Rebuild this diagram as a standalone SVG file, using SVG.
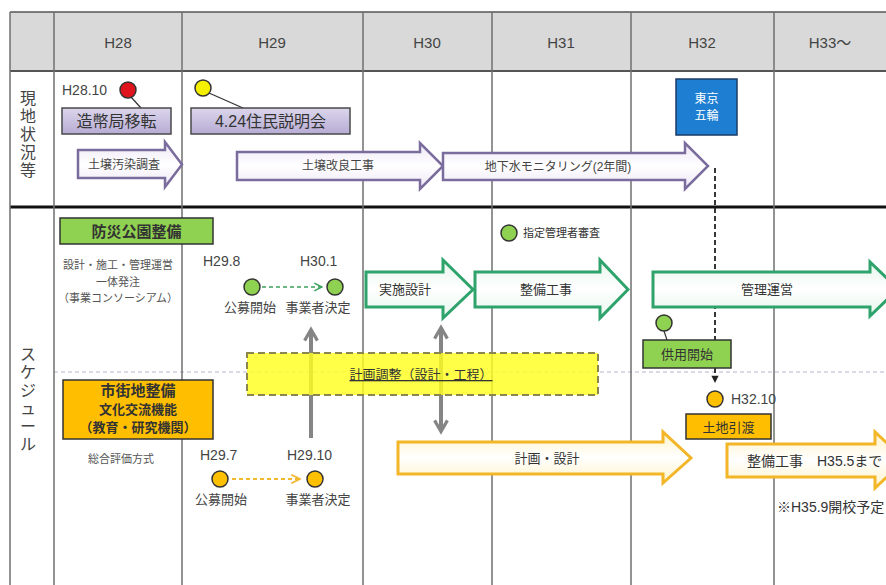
<svg xmlns="http://www.w3.org/2000/svg" width="886" height="585" viewBox="0 0 886 585">
<defs>
  <linearGradient id="gPurple" x1="0" y1="0" x2="0" y2="1">
    <stop offset="0" stop-color="#ece6f6"/><stop offset="0.5" stop-color="#ffffff"/><stop offset="1" stop-color="#ece6f6"/>
  </linearGradient>
  <linearGradient id="gLav" x1="0" y1="0" x2="0" y2="1">
    <stop offset="0" stop-color="#dcd6ec"/><stop offset="0.5" stop-color="#c9c1e0"/><stop offset="1" stop-color="#b7acd4"/>
  </linearGradient>
  <linearGradient id="gGreenArr" x1="0" y1="0" x2="0" y2="1">
    <stop offset="0" stop-color="#e6f6ec"/><stop offset="0.5" stop-color="#ffffff"/><stop offset="1" stop-color="#e6f6ec"/>
  </linearGradient>
  <linearGradient id="gOrgArr" x1="0" y1="0" x2="0" y2="1">
    <stop offset="0" stop-color="#fff3c8"/><stop offset="0.5" stop-color="#ffffff"/><stop offset="1" stop-color="#fff3c8"/>
  </linearGradient>
  <marker id="mGreen" viewBox="0 0 10 10" refX="9" refY="5" markerWidth="6" markerHeight="6" orient="auto">
    <path d="M1,1 L9,5 L1,9" fill="none" stroke="#3aa05a" stroke-width="1.6"/>
  </marker>
  <marker id="mOrange" viewBox="0 0 10 10" refX="9" refY="5" markerWidth="6" markerHeight="6" orient="auto">
    <path d="M1,1 L9,5 L1,9" fill="none" stroke="#f2b830" stroke-width="1.6"/>
  </marker>
  <marker id="mGray" viewBox="0 0 10 10" refX="7" refY="5" markerWidth="4" markerHeight="4" orient="auto-start-reverse">
    <path d="M1,1 L8,5 L1,9" fill="none" stroke="#858585" stroke-width="2"/>
  </marker>
  <marker id="mBlack" viewBox="0 0 10 10" refX="9" refY="5" markerWidth="5" markerHeight="5" orient="auto">
    <path d="M1,1 L9,5 L1,9 Z" fill="#222"/>
  </marker>
</defs>
<style>
  text { font-family: "Liberation Sans", "Noto Sans CJK JP", sans-serif; fill: #333; }
  .hdr { font-size: 15px; text-anchor: middle; fill: #444; }
  .side { font-size: 16px; text-anchor: middle; fill: #444; }
  .grid { stroke: #6f6f6f; stroke-width: 1.5; }
  .date { font-size: 14px; fill: #444; }
  .lbl { font-size: 13px; text-anchor: middle; fill: #444; }
  .small { font-size: 11px; text-anchor: middle; fill: #555; }
  .arrP { fill: url(#gPurple); stroke: #7a6c9c; stroke-width: 2.5; }
  .arrG { fill: url(#gGreenArr); stroke: #2fa36c; stroke-width: 3; }
  .arrO { fill: url(#gOrgArr); stroke: #f2b628; stroke-width: 3; }
  .arrTxt { font-size: 12px; text-anchor: middle; fill: #444; }
  .boxLav { fill: url(#gLav); stroke: #4a4a4a; stroke-width: 1.5; }
  .boxGreen { fill: #8fd150; stroke: #333; stroke-width: 1.5; }
  .boxOrange { fill: #ffbf00; stroke: #333; stroke-width: 1.5; }
  .dotG { fill: #8fd150; stroke: #333; stroke-width: 1.5; }
  .dotO { fill: #ffc000; stroke: #333; stroke-width: 1.5; }
  .lead { stroke: #333; stroke-width: 1.2; }
</style>

<!-- header band -->
<rect x="10" y="12" width="880" height="59" fill="#d9d9d9"/>
<line x1="10" y1="12" x2="886" y2="12" stroke="#555" stroke-width="1.5"/>
<line x1="10" y1="71" x2="886" y2="71" stroke="#555" stroke-width="2"/>

<!-- section divider between site status and schedule -->
<line x1="10" y1="207" x2="886" y2="207" stroke="#111" stroke-width="3"/>
<!-- thin dashed divider inside schedule -->
<line x1="54" y1="372" x2="886" y2="372" stroke="#b8b4cc" stroke-width="1.2" stroke-dasharray="4,3"/>

<!-- column lines -->
<g id="grid">
  <line class="grid" x1="10" y1="12" x2="10" y2="585"/>
  <line class="grid" x1="54" y1="12" x2="54" y2="585"/>
  <line class="grid" x1="182" y1="12" x2="182" y2="585"/>
  <line class="grid" x1="363" y1="12" x2="363" y2="585"/>
  <line class="grid" x1="492" y1="12" x2="492" y2="585"/>
  <line class="grid" x1="631" y1="12" x2="631" y2="585"/>
  <line class="grid" x1="774" y1="12" x2="774" y2="585"/>
</g>

<!-- year headings -->
<g id="headers">
  <text class="hdr" x="118" y="48">H28</text>
  <text class="hdr" x="272" y="48">H29</text>
  <text class="hdr" x="427" y="48">H30</text>
  <text class="hdr" x="561" y="48">H31</text>
  <text class="hdr" x="702" y="48">H32</text>
  <text class="hdr" x="830" y="48">H33～</text>
</g>

<!-- row headings (vertical) -->
<g id="row-site">
  <text class="side" x="28"><tspan x="28" y="104">現</tspan><tspan x="28" y="122">地</tspan><tspan x="28" y="140">状</tspan><tspan x="28" y="158">況</tspan><tspan x="28" y="176">等</tspan></text>
</g>
<g id="row-schedule">
  <text class="side" x="28"><tspan x="28" y="360">ス</tspan><tspan x="28" y="378">ケ</tspan><tspan x="28" y="396">ジ</tspan><tspan x="28" y="414">ュ</tspan><tspan x="28" y="432">ー</tspan><tspan x="28" y="450">ル</tspan></text>
</g>

<!-- connectors -->
<g id="connectors">
  <line class="lead" x1="131" y1="97" x2="141" y2="108"/>
  <line class="lead" x1="209" y1="93" x2="243" y2="108"/>
  <line class="lead" x1="664" y1="331" x2="667" y2="340"/>
  <line x1="262" y1="287" x2="322" y2="287" stroke="#3aa05a" stroke-width="1.6" stroke-dasharray="4,3" marker-end="url(#mGreen)"/>
  <line x1="232" y1="479" x2="300" y2="479" stroke="#f2b830" stroke-width="1.8" stroke-dasharray="4,3" marker-end="url(#mOrange)"/>
  <line x1="715" y1="168" x2="715" y2="383" stroke="#222" stroke-width="1.8" stroke-dasharray="5,3" marker-end="url(#mBlack)"/>
  <line x1="311" y1="438" x2="311" y2="331" stroke="#858585" stroke-width="4" marker-end="url(#mGray)"/>
  <line x1="441" y1="329" x2="441" y2="430" stroke="#858585" stroke-width="4" marker-start="url(#mGray)" marker-end="url(#mGray)"/>
</g>

<!-- site status row -->
<g id="n-mint">
  <text class="date" x="62" y="95">H28.10</text>
  <circle cx="128" cy="90" r="8" fill="#e0141c" stroke="#333" stroke-width="1.5"/>
  <rect class="boxLav" x="62" y="108" width="109" height="26"/>
  <text x="116.5" y="127" font-size="16" text-anchor="middle" fill="#333">造幣局移転</text>
</g>
<g id="n-briefing">
  <circle cx="203" cy="88" r="8" fill="#f4f000" stroke="#333" stroke-width="1.5"/>
  <rect class="boxLav" x="191" y="108" width="159" height="26"/>
  <text x="270.5" y="127" font-size="16" text-anchor="middle" fill="#333">4.24住民説明会</text>
</g>
<g id="n-soil-survey">
  <polygon class="arrP" points="78,150 165,150 165,142 182,164.5 165,187 165,178 78,178"/>
  <text class="arrTxt" x="124" y="169">土壌汚染調査</text>
</g>
<g id="n-soil-works">
  <polygon class="arrP" points="237,152 420,152 420,143 443,166 420,189 420,180 237,180"/>
  <text class="arrTxt" x="338" y="170">土壌改良工事</text>
</g>
<g id="n-groundwater">
  <polygon class="arrP" points="443,153 685,153 685,143 708,166 685,189 685,180 443,180"/>
  <text class="arrTxt" x="558" y="171">地下水モニタリング(2年間)</text>
</g>
<g id="n-olympics">
  <rect x="676" y="79" width="61" height="56" fill="#1e7fd2" stroke="#1a3a66" stroke-width="1.5"/>
  <text x="706.5" y="103" font-size="12" text-anchor="middle" style="fill:#fff">東京</text>
  <text x="706.5" y="120" font-size="12" text-anchor="middle" style="fill:#fff">五輪</text>
</g>

<!-- disaster-prevention park -->
<g id="n-park">
  <rect class="boxGreen" x="60" y="218" width="153" height="26"/>
  <text x="136.5" y="237" font-size="15" font-weight="bold" text-anchor="middle" fill="#222">防災公園整備</text>
  <text class="small" x="118" y="269">設計・施工・管理運営</text>
  <text class="small" x="118" y="286">一体発注</text>
  <text class="small" x="118" y="302">（事業コンソーシアム）</text>
</g>
<g id="n-park-call">
  <text class="date" x="203" y="266">H29.8</text>
  <circle class="dotG" cx="252" cy="287" r="8"/>
  <text class="lbl" x="250" y="312">公募開始</text>
</g>
<g id="n-park-select">
  <text class="date" x="300" y="266">H30.1</text>
  <circle class="dotG" cx="335" cy="287" r="8"/>
  <text class="lbl" x="318" y="312">事業者決定</text>
</g>
<g id="n-manager-review">
  <circle class="dotG" cx="509" cy="233" r="8"/>
  <text x="523" y="237" font-size="11" fill="#444">指定管理者審査</text>
</g>
<g id="n-detail-design">
  <polygon class="arrG" points="366,272 443,272 443,260 473,289.5 443,318 443,307 366,307"/>
  <text x="405" y="294" font-size="13" text-anchor="middle" fill="#444">実施設計</text>
</g>
<g id="n-park-works">
  <polygon class="arrG" points="475,272 600,272 600,260 628,289.5 600,318 600,307 475,307"/>
  <text x="546" y="294" font-size="13" text-anchor="middle" fill="#444">整備工事</text>
</g>
<g id="n-operation">
  <polygon class="arrG" points="653,272 870,272 870,262 898,289 870,316 870,307 653,307"/>
  <text x="767" y="294" font-size="13" text-anchor="middle" fill="#444">管理運営</text>
</g>
<g id="n-open">
  <circle class="dotG" cx="664" cy="323" r="8"/>
  <rect class="boxGreen" x="643" y="340" width="88" height="28"/>
  <text x="687" y="359" font-size="13" text-anchor="middle" fill="#222">供用開始</text>
</g>

<!-- coordination box -->
<g id="n-coordination">
  <rect x="247" y="353" width="351" height="42" fill="#ffff20" fill-opacity="0.82" stroke="#8b8650" stroke-width="2" stroke-dasharray="7,4"/>
  <text x="421" y="379" font-size="13" text-anchor="middle" fill="#333" text-decoration="underline">計画調整（設計・工程）</text>
</g>

<!-- urban development -->
<g id="n-urban">
  <rect class="boxOrange" x="63" y="380" width="150" height="59"/>
  <text x="138" y="396" font-size="15" font-weight="bold" text-anchor="middle" fill="#222">市街地整備</text>
  <text x="138" y="414" font-size="13" font-weight="bold" text-anchor="middle" fill="#222">文化交流機能</text>
  <text x="138" y="432" font-size="13" font-weight="bold" text-anchor="middle" fill="#222">（教育・研究機関）</text>
  <text class="small" x="121" y="463">総合評価方式</text>
</g>
<g id="n-urban-call">
  <text class="date" x="200" y="460">H29.7</text>
  <circle class="dotO" cx="220" cy="479" r="8"/>
  <text class="lbl" x="221" y="504">公募開始</text>
</g>
<g id="n-urban-select">
  <text class="date" x="287" y="460">H29.10</text>
  <circle class="dotO" cx="315" cy="479" r="8"/>
  <text class="lbl" x="318" y="504">事業者決定</text>
</g>
<g id="n-plan-design">
  <polygon class="arrO" points="398,442 663,442 663,432 691,458 663,483 663,474 398,474"/>
  <text x="547" y="463" font-size="13" text-anchor="middle" fill="#444">計画・設計</text>
</g>
<g id="n-handover">
  <circle class="dotO" cx="715" cy="399" r="8"/>
  <text class="date" x="731" y="404">H32.10</text>
  <rect class="boxOrange" x="686" y="414" width="85" height="25"/>
  <text x="728.5" y="432" font-size="13" text-anchor="middle" fill="#222">土地引渡</text>
</g>
<g id="n-urban-works">
  <polygon class="arrO" points="727,444 875,444 875,432 905,460 875,488 875,477 727,477"/>
  <text x="747" y="466" font-size="14" fill="#444">整備工事</text>
  <text x="817" y="466" font-size="14" fill="#444">H35.5まで</text>
  <text x="777" y="512" font-size="14" fill="#555">※H35.9開校予定</text>
</g>
</svg>
